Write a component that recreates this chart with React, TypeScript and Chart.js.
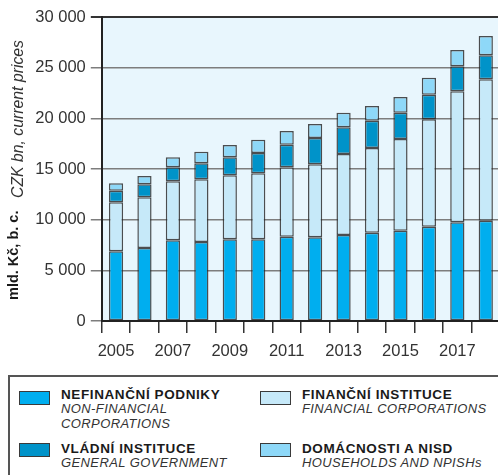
import React, { useEffect, useRef } from 'react';
import { Chart, registerables } from 'chart.js';

Chart.register(...registerables);

const years = ['2005', '2006', '2007', '2008', '2009', '2010', '2011', '2012', '2013', '2014', '2015', '2016', '2017', '2018'];
const nonFinancial = [6880, 7200, 7960, 7800, 8060, 8060, 8320, 8260, 8490, 8720, 8910, 9310, 9740, 9900];
const financial = [4830, 5000, 5830, 6180, 6320, 6510, 6850, 7200, 7990, 8350, 9050, 10590, 12930, 13950];
const government = [1150, 1290, 1380, 1580, 1770, 2010, 2230, 2600, 2630, 2700, 2600, 2430, 2460, 2370];
const households = [730, 820, 980, 1150, 1220, 1310, 1350, 1380, 1450, 1450, 1540, 1680, 1610, 1910];

const yMin = 0;
const yMax = 30000;
const yStep = 5000;

const yTitleCz = 'mld. Kč, b. c.';
const yTitleEn = 'CZK bn, current prices';

const seriesNames = [
  { cz: 'NEFINANČNÍ PODNIKY', en: ['NON-FINANCIAL', 'CORPORATIONS'] },
  { cz: 'FINANČNÍ INSTITUCE', en: ['FINANCIAL CORPORATIONS'] },
  { cz: 'VLÁDNÍ INSTITUCE', en: ['GENERAL GOVERNMENT'] },
  { cz: 'DOMÁCNOSTI A NISD', en: ['HOUSEHOLDS AND NPISHs'] },
];
const seriesColors = ['#00aeef', '#c6e9f9', '#0093c9', '#8ed8f8'];

const FONT = '"Liberation Sans", Arial, Helvetica, sans-serif';
const CW = 500;
const CH = 372;

const fmt = (v: number) => {
  const s = Math.round(v).toString();
  return s.replace(/\B(?=(\d{3})+(?!\d))/g, ' ');
};

const bgPlugin = {
  id: 'plotBg',
  beforeDraw(chart: any) {
    const { ctx, chartArea } = chart;
    ctx.save();
    ctx.fillStyle = '#e8f6fd';
    ctx.fillRect(chartArea.left, chartArea.top, chartArea.right - chartArea.left, chartArea.bottom - chartArea.top);
    ctx.restore();
  },
};

const titlePlugin = {
  id: 'yTitle',
  afterDraw(chart: any) {
    const { ctx } = chart;
    ctx.save();
    ctx.fillStyle = '#1a1a1a';
    ctx.textBaseline = 'middle';
    ctx.textAlign = 'left';
    ctx.translate(14, 300);
    ctx.rotate(-Math.PI / 2);
    ctx.font = `bold 14.5px ${FONT}`;
    ctx.fillText(yTitleCz, 0, 0);
    ctx.restore();
    ctx.save();
    ctx.fillStyle = '#333';
    ctx.textBaseline = 'middle';
    ctx.textAlign = 'left';
    ctx.translate(19, 198);
    ctx.rotate(-Math.PI / 2);
    ctx.font = `italic 15.8px ${FONT}`;
    ctx.fillText(yTitleEn, 0, 0);
    ctx.restore();
  },
};

export default function App() {
  const ref = useRef<HTMLCanvasElement | null>(null);

  useEffect(() => {
    if (!ref.current) return;
    const dataArrays = [nonFinancial, financial, government, households];
    const chart = new Chart(ref.current, {
      type: 'bar',
      data: {
        labels: years,
        datasets: dataArrays.map((d, i) => ({
          label: seriesNames[i].cz,
          data: d,
          backgroundColor: seriesColors[i],
          borderColor: 'rgba(35,35,35,0.8)',
          borderWidth: 1.5,
          borderSkipped: false,
          barPercentage: 0.5,
          categoryPercentage: 1,
        })),
      },
      options: {
        animation: false,
        responsive: false,
        devicePixelRatio: 1,
        layout: { padding: { top: 17, left: 0, right: 0, bottom: 0 } },
        plugins: {
          legend: { display: false },
          tooltip: { enabled: false },
        },
        scales: {
          x: {
            stacked: true,
            offset: true,
            grid: {
              offset: true,
              drawOnChartArea: false,
              drawTicks: true,
              tickLength: 12,
              color: '#333',
              lineWidth: 1.5,
            },
            border: { display: true, color: '#222', width: 2 },
            ticks: {
              autoSkip: false,
              maxRotation: 0,
              minRotation: 0,
              padding: 9,
              color: '#333',
              font: { family: FONT, size: 16.5 },
              callback: (_v: any, i: number) => (i % 2 === 0 ? years[i] : ''),
            },
            afterFit: (s: any) => {
              s.height = CH - 321;
            },
          },
          y: {
            stacked: true,
            min: yMin,
            max: yMax,
            ticks: {
              stepSize: yStep,
              padding: 5,
              color: '#333',
              font: { family: FONT, size: 16.5 },
              callback: (v: any) => fmt(Number(v)),
            },
            grid: {
              color: (ctx: any) => (ctx.tick && ctx.tick.value === yMax ? '#333' : '#7d7d7d'),
              lineWidth: (ctx: any) => (ctx.tick && ctx.tick.value === yMax ? 2 : 1.5),
              tickLength: 11,
            },
            border: { display: true, color: '#222', width: 2 },
            afterFit: (s: any) => {
              s.width = 101.8;
            },
          },
        },
      },
      plugins: [bgPlugin, titlePlugin],
    } as any);
    return () => chart.destroy();
  }, []);

  const swatch = (i: number, left: number, top: number) => (
    <div
      style={{
        position: 'absolute',
        left,
        top,
        width: 31,
        height: 14,
        boxSizing: 'border-box',
        border: '1.5px solid #3a3a3a',
        background: seriesColors[i],
      }}
    />
  );

  const text = (i: number, left: number, top: number) => (
    <div style={{ position: 'absolute', left, top, lineHeight: '14.3px', whiteSpace: 'nowrap', fontFamily: FONT }}>
      <div style={{ fontWeight: 'bold', fontSize: 13.5, letterSpacing: 0.6, color: '#1a1a1a' }}>{seriesNames[i].cz}</div>
      {seriesNames[i].en.map((t, k) => (
        <div key={k} style={{ fontStyle: 'italic', fontSize: 13, letterSpacing: 0.4, color: '#333' }}>
          {t}
        </div>
      ))}
    </div>
  );

  return (
    <div
      style={{
        position: 'absolute',
        left: 0,
        top: 0,
        width: 498,
        height: 475,
        overflow: 'hidden',
        background: '#fff',
      }}
    >
      <canvas ref={ref} width={CW} height={CH} style={{ position: 'absolute', left: 0, top: 0, width: CW, height: CH }} />
      <div
        style={{
          position: 'absolute',
          left: 8,
          top: 375,
          width: 510,
          height: 130,
          boxSizing: 'border-box',
          border: '2px solid #555',
        }}
      />
      {swatch(0, 19, 391)}
      {text(0, 61, 388)}
      {swatch(1, 260, 391)}
      {text(1, 302, 388)}
      {swatch(2, 19, 443)}
      {text(2, 61, 442)}
      {swatch(3, 260, 443)}
      {text(3, 302, 442)}
    </div>
  );
}
